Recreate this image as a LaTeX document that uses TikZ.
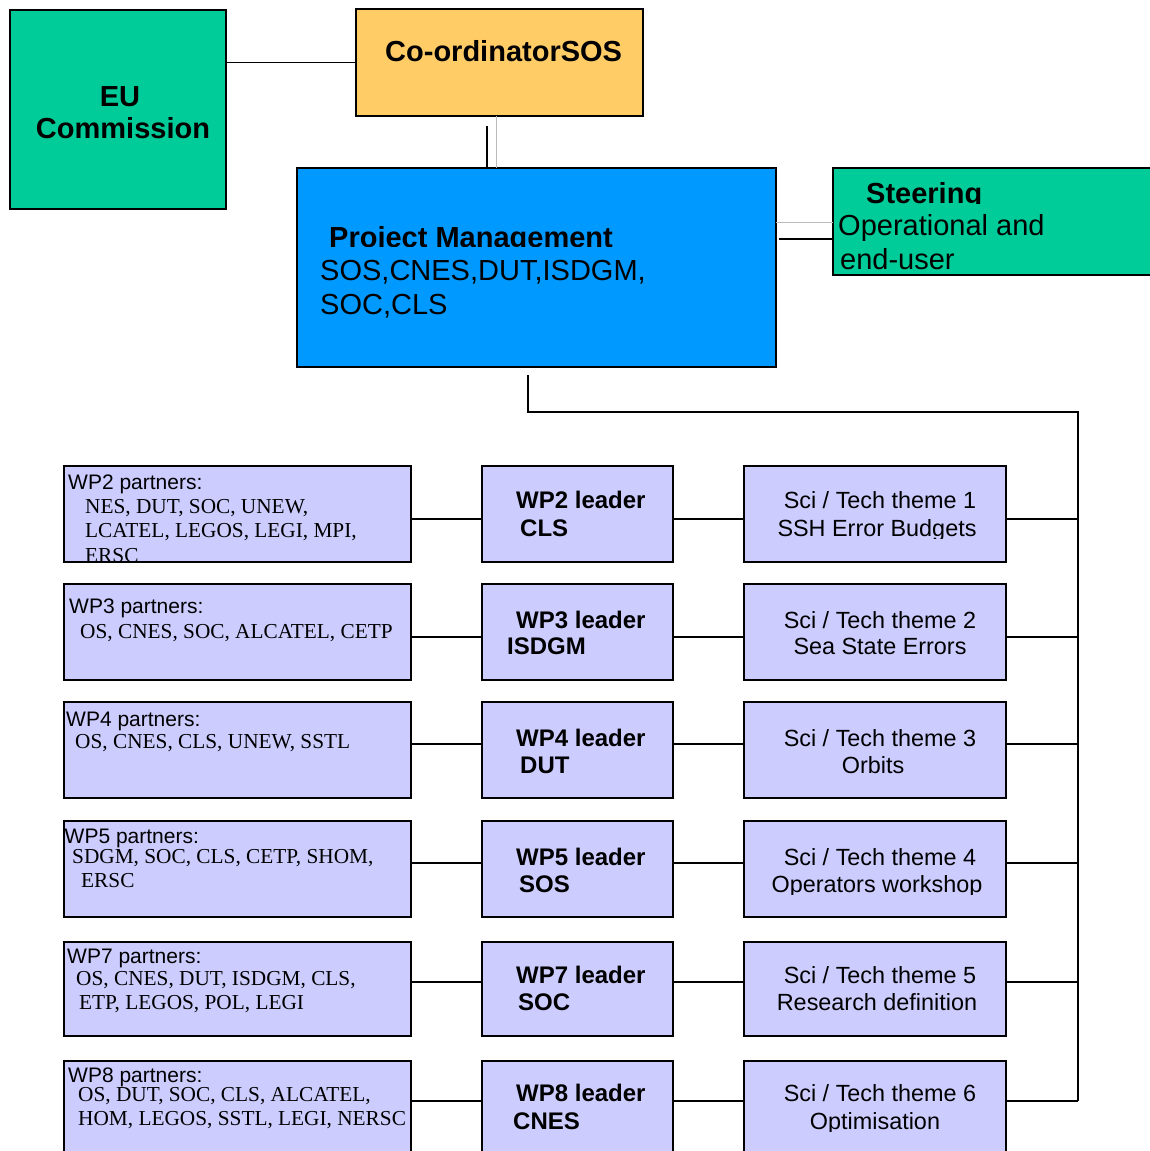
\documentclass[tikz,border=0pt]{standalone}
\usepackage{fontspec}
\setmainfont{Liberation Sans}
\newfontfamily\tmsfont{Liberation Serif}
\definecolor{eugreen}{HTML}{00CC99}
\definecolor{coordor}{HTML}{FFCC66}
\definecolor{pmblue}{HTML}{0099FF}
\definecolor{lav}{HTML}{CCCCFF}
\definecolor{lgrey}{HTML}{BBBBBB}
\begin{document}
\begin{tikzpicture}[x=1pt,y=-1pt,
  orgbox/.style={draw=black, line width=1.5pt, inner sep=0pt, outer sep=0pt, anchor=north west, rectangle},
  wpbox/.style={orgbox, fill=lav},
  bigb/.style={font=\fontsize{29}{34}\selectfont\bfseries, inner sep=0pt},
  bigr/.style={font=\fontsize{29}{34}\selectfont, inner sep=0pt},
  hdr/.style={font=\fontsize{21}{24}\selectfont, inner sep=0pt, anchor=base west},
  lst/.style={font=\fontsize{21.3}{24}\selectfont\tmsfont, inner sep=0pt, anchor=base west},
  ldr/.style={font=\fontsize{24}{28}\selectfont\bfseries, inner sep=0pt, anchor=base west},
  thm/.style={font=\fontsize{23.4}{27}\selectfont, inner sep=0pt, anchor=base},
  conn/.style={draw=black, line width=1.3pt},
  connthick/.style={draw=black, line width=2.2pt},
  greyconn/.style={draw=lgrey, line width=1pt}
]
\useasboundingbox (0,0) rectangle (1150,1151);
\clip (0,0) rectangle (1150,1151);
\fill[white] (0,0) rectangle (1150,1151);

% ---------- top boxes ----------
\node[orgbox, fill=eugreen, minimum width=216pt, minimum height=199pt] (eu) at (10,10) {};
\node[bigb, anchor=base] (eut1) at (120,106) {EU};
\node[bigb, anchor=base] (eut2) at (123,138) {Commission};

\node[orgbox, fill=coordor, minimum width=287pt, minimum height=107pt] (coord) at (356,9) {};
\node[bigb, anchor=base west] (coordt) at (385,61) {Co-ordinatorSOS};

\node[orgbox, fill=pmblue, minimum width=479pt, minimum height=199pt] (pm) at (297,168) {};
\begin{scope}
  \clip (297,168) rectangle (776,246.5);
  \node[bigb, anchor=base west] (pmt1) at (329,247) {Project Management};
\end{scope}
\node[bigr, anchor=base west] (pmt2) at (320,280) {SOS,CNES,DUT,ISDGM,};
\node[bigr, anchor=base west] (pmt3) at (320,314) {SOC,CLS};

\node[orgbox, fill=eugreen, minimum width=330pt, minimum height=107pt] (steer) at (833,168) {};
\begin{scope}
  \clip (833,168) rectangle (1160,203.5);
  \node[bigb, anchor=base west] (st1) at (866,203) {Steering};
\end{scope}
\node[bigr, anchor=base west] (st2) at (838,235) {Operational and};
\node[bigr, anchor=base west] (st3) at (840,269) {end-user};

% ---------- top connectors ----------
\draw[conn] (coord.west) -- (coord.west -| eu.east);
\coordinate (cpk) at (487,126);
\coordinate (cpg) at (496,116);
\draw[conn] (cpk) -- (cpk |- pm.north);
\draw[greyconn] (cpg) -- (cpg |- pm.north);
\coordinate (psk) at (779,239);
\coordinate (psg) at (776,222);
\draw[greyconn] (psg) -- (psg -| steer.west);
\draw[conn] (psk) -- (psk -| steer.west);
\coordinate (pmb) at (528,375);
\coordinate (bustop) at (1078,412);
\coordinate (busbot) at (1078,1101);
\draw[conn, line width=1.8pt] (pmb) |- (bustop) -- (busbot);

% ---------- row coordinates ----------
\coordinate (r2) at (0,519);
\coordinate (r3) at (0,637);
\coordinate (r4) at (0,744);
\coordinate (r5) at (0,863);
\coordinate (r7) at (0,982);
\coordinate (r8) at (0,1101);

% ---------- WP2 ----------
\node[wpbox, minimum width=347pt, minimum height=96pt] (p2) at (64,466) {};
\begin{scope}
  \clip (65,467) rectangle (410,561);
  \node[hdr] (p2h) at (68,489) {WP2 partners:};
  \node[lst] (p2a) at (85,513) {NES, DUT, SOC, UNEW,};
  \node[lst] (p2b) at (85,537) {LCATEL, LEGOS, LEGI, MPI,};
  \node[lst] (p2c) at (85,562) {ERSC};
\end{scope}
\node[wpbox, minimum width=191pt, minimum height=96pt] (l2) at (482,466) {};
\node[ldr] (l2a) at (516,508) {WP2 leader};
\node[ldr] (l2b) at (520,536) {CLS};
\node[wpbox, minimum width=262pt, minimum height=96pt] (t2) at (744,466) {};
\node[thm] (t2a) at (880,508) {Sci / Tech theme 1};
\begin{scope}
  \clip (744,466) rectangle (1006,538.5);
  \node[thm] (t2b) at (877,536) {SSH Error Budgets};
\end{scope}

% ---------- WP3 ----------
\node[wpbox, minimum width=347pt, minimum height=96pt] (p3) at (64,584) {};
\node[hdr] (p3h) at (69,613) {WP3 partners:};
\node[lst] (p3a) at (80,638) {OS, CNES, SOC, ALCATEL, CETP};
\node[wpbox, minimum width=191pt, minimum height=96pt] (l3) at (482,584) {};
\node[ldr] (l3a) at (516,628) {WP3 leader};
\node[ldr] (l3b) at (507,654) {ISDGM};
\node[wpbox, minimum width=262pt, minimum height=96pt] (t3) at (744,584) {};
\node[thm] (t3a) at (880,628) {Sci / Tech theme 2};
\node[thm] (t3b) at (880,654) {Sea State Errors};

% ---------- WP4 ----------
\node[wpbox, minimum width=347pt, minimum height=96pt] (p4) at (64,702) {};
\node[hdr] (p4h) at (66,726) {WP4 partners:};
\node[lst] (p4a) at (75,748) {OS, CNES, CLS, UNEW, SSTL};
\node[wpbox, minimum width=191pt, minimum height=96pt] (l4) at (482,702) {};
\node[ldr] (l4a) at (516,746) {WP4 leader};
\node[ldr] (l4b) at (520,773) {DUT};
\node[wpbox, minimum width=262pt, minimum height=96pt] (t4) at (744,702) {};
\node[thm] (t4a) at (880,746) {Sci / Tech theme 3};
\node[thm] (t4b) at (873,773) {Orbits};

% ---------- WP5 ----------
\node[wpbox, minimum width=347pt, minimum height=96pt] (p5) at (64,821) {};
\node[hdr] (p5h) at (64.5,843) {WP5 partners:};
\node[lst] (p5a) at (72,863) {SDGM, SOC, CLS, CETP, SHOM,};
\node[lst] (p5b) at (81,887) {ERSC};
\node[wpbox, minimum width=191pt, minimum height=96pt] (l5) at (482,821) {};
\node[ldr] (l5a) at (516,865) {WP5 leader};
\node[ldr] (l5b) at (519,892) {SOS};
\node[wpbox, minimum width=262pt, minimum height=96pt] (t5) at (744,821) {};
\node[thm] (t5a) at (880,865) {Sci / Tech theme 4};
\begin{scope}
  \clip (744,821) rectangle (1006,894.5);
  \node[thm] (t5b) at (877,892) {Operators workshop};
\end{scope}

% ---------- WP7 ----------
\node[wpbox, minimum width=347pt, minimum height=94pt] (p7) at (64,942) {};
\node[hdr] (p7h) at (67,963) {WP7 partners:};
\node[lst] (p7a) at (76,985) {OS, CNES, DUT, ISDGM, CLS,};
\node[lst] (p7b) at (79,1009) {ETP, LEGOS, POL, LEGI};
\node[wpbox, minimum width=191pt, minimum height=94pt] (l7) at (482,942) {};
\node[ldr] (l7a) at (516,983) {WP7 leader};
\node[ldr] (l7b) at (518,1010) {SOC};
\node[wpbox, minimum width=262pt, minimum height=94pt] (t7) at (744,942) {};
\node[thm] (t7a) at (880,983) {Sci / Tech theme 5};
\node[thm] (t7b) at (877,1010) {Research definition};

% ---------- WP8 ----------
\node[wpbox, minimum width=347pt, minimum height=110pt] (p8) at (64,1061) {};
\node[hdr] (p8h) at (68,1082) {WP8 partners:};
\node[lst] (p8a) at (78,1101) {OS, DUT, SOC, CLS, ALCATEL,};
\node[lst] (p8b) at (78,1125) {HOM, LEGOS, SSTL, LEGI, NERSC};
\node[wpbox, minimum width=191pt, minimum height=110pt] (l8) at (482,1061) {};
\node[ldr] (l8a) at (516,1101) {WP8 leader};
\node[ldr] (l8b) at (513,1129) {CNES};
\node[wpbox, minimum width=262pt, minimum height=110pt] (t8) at (744,1061) {};
\node[thm] (t8a) at (880,1101) {Sci / Tech theme 6};
\begin{scope}
  \clip (744,1061) rectangle (1006,1131.5);
  \node[thm] (t8b) at (875,1129) {Optimisation};
\end{scope}

% ---------- row connectors ----------
\foreach \r/\s in {2/conn,3/conn,4/conn,5/connthick,7/conn,8/connthick}{
  \draw[\s] (p\r.east |- r\r) -- (l\r.west |- r\r);
  \draw[\s] (l\r.east |- r\r) -- (t\r.west |- r\r);
  \draw[\s] (t\r.east |- r\r) -- (bustop |- r\r);
}
\end{tikzpicture}
\end{document}
